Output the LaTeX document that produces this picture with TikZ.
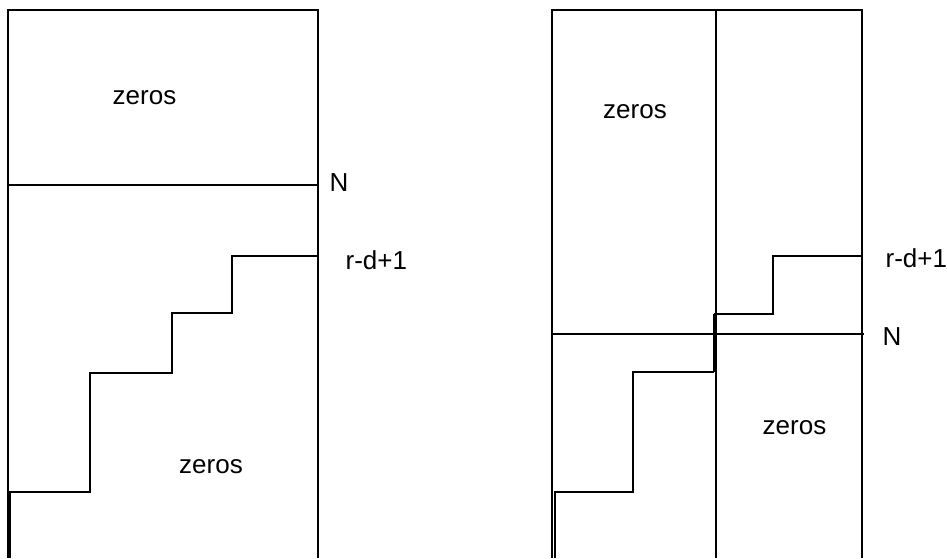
\documentclass[tikz,border=0pt]{standalone}
\usepackage{fontspec}
\setmainfont{Liberation Sans}
\begin{document}
\begin{tikzpicture}[x=1pt,y=-1pt,line width=1.3pt,
  lbl/.style={inner sep=0pt,font=\fontsize{26}{30}\selectfont}]
\useasboundingbox (0,0) rectangle (947,558);
% left block
\draw (8,558) -- (8,10) -- (318,10) -- (318,558);
\draw (8,185) -- (318,185);
\draw (10,558) -- (10,492) -- (90,492) -- (90,373) -- (172,373) -- (172,313)
  -- (232,313) -- (232,256) -- (318,256);
\node[lbl,anchor=base] (zl1) at (144.5,104) {zeros};
\node[lbl,anchor=base] (zl2) at (211,473) {zeros};
\node[lbl,anchor=base west] (nl) at (329,191) {N};
\node[lbl,anchor=base west] (rl) at (345,269) {r-d+1};
% right block
\draw (552,558) -- (552,10) -- (862,10) -- (862,558);
\draw (716,10) -- (716,558);
\draw (552,334) -- (864,334);
\draw (555,558) -- (555,492) -- (633,492) -- (633,372) -- (714,372);
\draw[line width=3pt] (714,372) -- (714,314);
\draw (714,314) -- (773,314) -- (773,256) -- (862,256);
\node[lbl,anchor=base] (zr1) at (635,118) {zeros};
\node[lbl,anchor=base] (zr2) at (794.5,434) {zeros};
\node[lbl,anchor=base west] (rr) at (885,267) {r-d+1};
\node[lbl,anchor=base west] (nr) at (882,345) {N};
\end{tikzpicture}
\end{document}
